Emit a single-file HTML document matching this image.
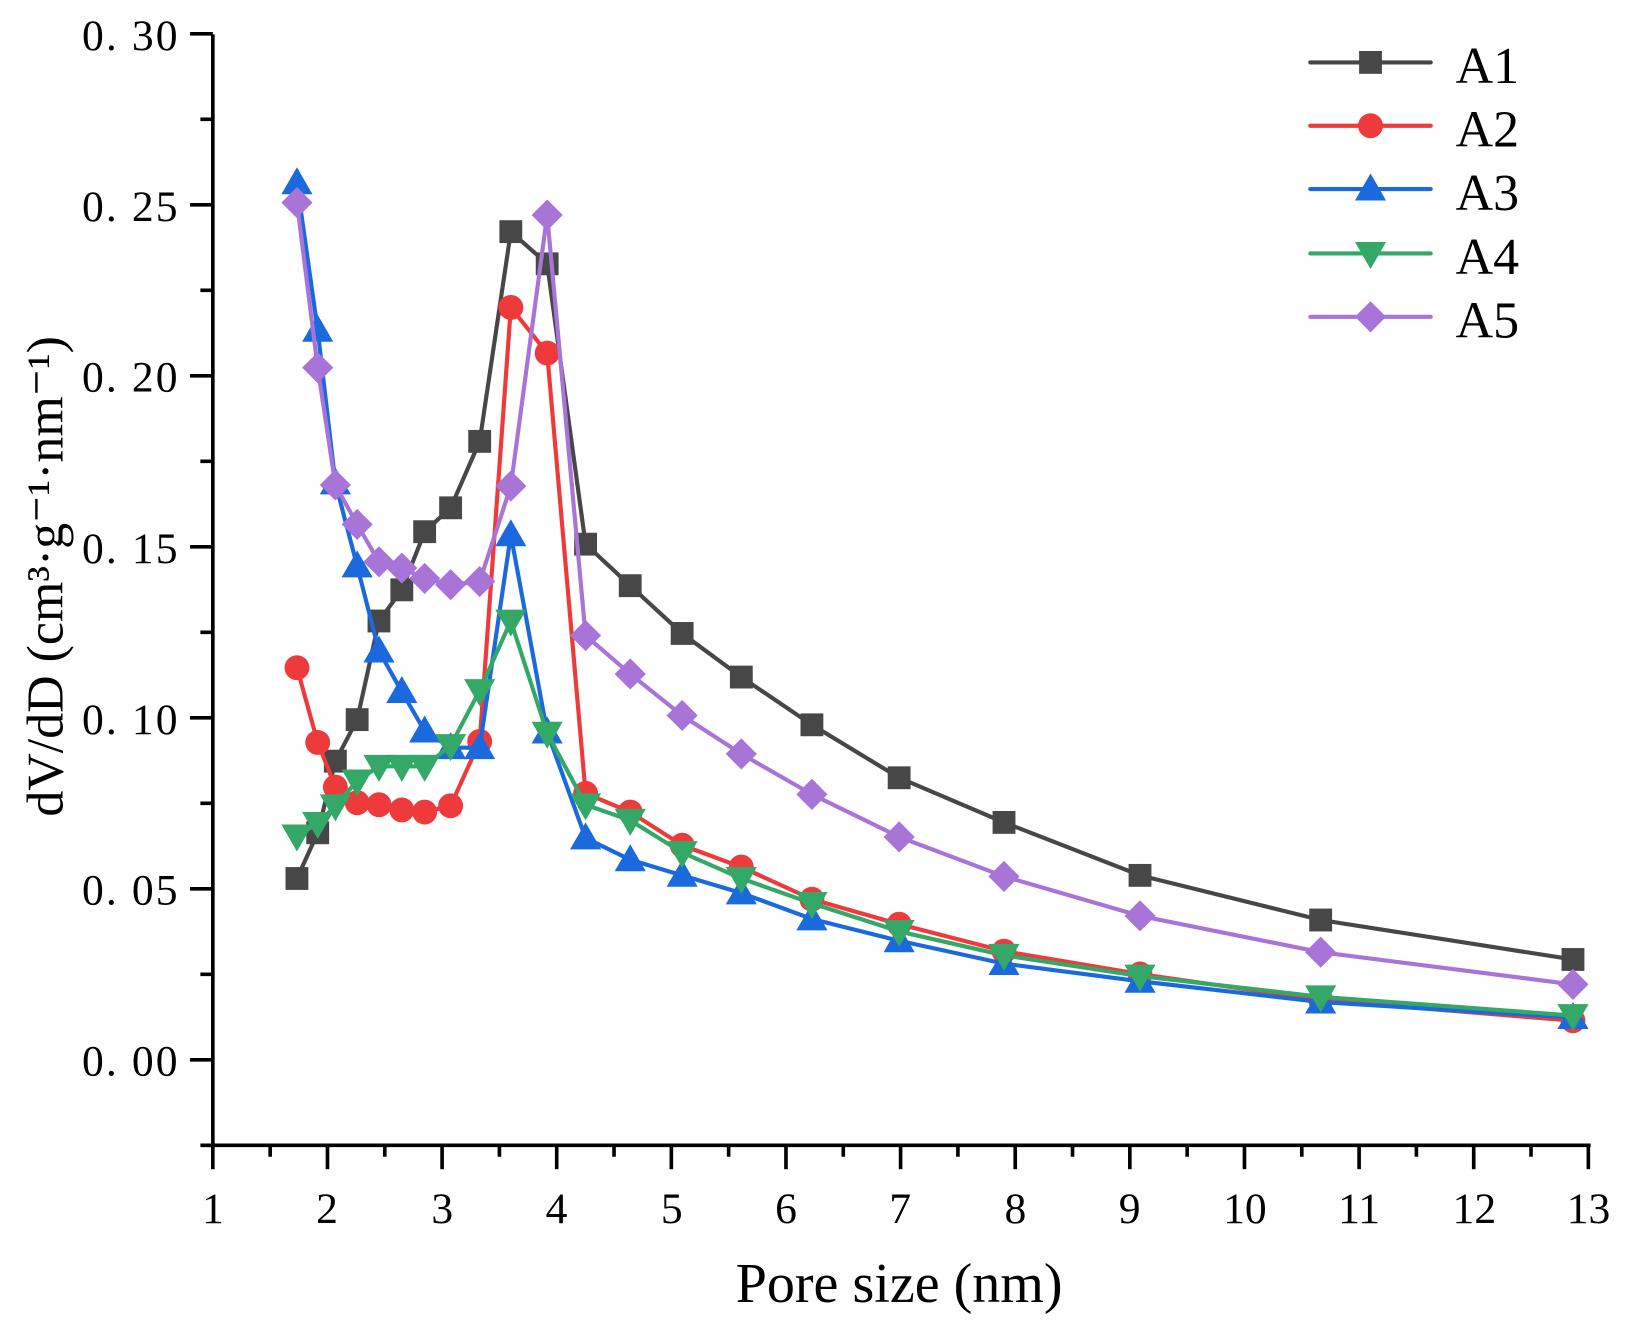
<!DOCTYPE html>
<html><head><meta charset="utf-8"><style>
html,body{margin:0;padding:0;background:#fff;}
svg{display:block;}
text{font-family:"Liberation Serif","Noto Serif CJK SC",serif;fill:#000;}
</style></head><body>
<svg id="c" width="1628" height="1324" viewBox="0 0 1568 1275" xmlns="http://www.w3.org/2000/svg">
<g stroke="#000" stroke-width="3.5" fill="none">
<line x1="205" y1="33" x2="205" y2="1105"/>
<line x1="200" y1="1103" x2="1532" y2="1103"/>
</g>
<g id="ticks" stroke="#000" stroke-width="3.5"></g>
<g font-size="42" text-anchor="end" letter-spacing="2">
<text x="173" y="1036">0. 00</text>
<text x="173" y="871">0. 05</text>
<text x="173" y="707">0. 10</text>
<text x="173" y="542">0. 15</text>
<text x="173" y="377">0. 20</text>
<text x="173" y="213">0. 25</text>
<text x="173" y="48">0. 30</text>
</g>
<g font-size="42" text-anchor="middle">
<text x="205" y="1178">1</text><text x="315" y="1178">2</text><text x="426" y="1178">3</text>
<text x="536" y="1178">4</text><text x="647" y="1178">5</text><text x="757" y="1178">6</text>
<text x="867" y="1178">7</text><text x="978" y="1178">8</text><text x="1088" y="1178">9</text>
<text x="1199" y="1178">10</text><text x="1309" y="1178">11</text><text x="1420" y="1178">12</text>
<text x="1530" y="1178">13</text>
</g>
<text x="866" y="1254" font-size="54" text-anchor="middle">Pore size (nm)</text>
<text transform="translate(60,555) rotate(-90)" font-size="50" text-anchor="middle">dV/dD (cm³·g⁻¹·nm⁻¹)</text>
<g id="series"></g>
<g id="legend"></g>
<g font-size="50">
<text x="1402" y="80">A1</text><text x="1402" y="141">A2</text><text x="1402" y="202">A3</text>
<text x="1402" y="264">A4</text><text x="1402" y="325">A5</text>
</g>
</svg>
<script>
var NS="http://www.w3.org/2000/svg";
function el(p,n,a){var e=document.createElementNS(NS,n);for(var k in a)e.setAttribute(k,a[k]);p.appendChild(e);return e;}
var T=document.getElementById('ticks');
for(var i=0;i<=13;i++){var y=1103-i*82.35;var maj=(i%2==1);el(T,'line',{x1:maj?183:193,x2:205,y1:y,y2:y});}
for(var i=0;i<=24;i++){var x=205+i*55.2;var maj=(i%2==0);el(T,'line',{x1:x,x2:x,y1:1103,y2:maj?1126:1114});}
var cols=['#474747','#ee3a3a','#1a6ade','#33a867','#a874d8'];
var xs=[286,306,323,344,365,387,409,434,462,492,527,564,607,657,714,782,866,967,1098,1272,1515];
var D=[
[846,802,733,693,598,568,512,489,425,223,254,524,564,610,652,698,749,792,843,886,924],
[643,715,758,773,775,780,782,776,714,296,340,764,782,814,835,866,890,916,938,963,983],
[176,318,465,545,627,666,704,720,720,515,705,807,828,843,860,885,906,928,945,965,980],
[805,793,776,752,738,738,738,718,665,598,706,775,790,821,846,870,897,920,940,960,978],
[195,354,467,505,541,547,557,563,560,468,207,612,649,689,726,765,806,844,882,917,948]];
function marker(g,s,x,y,c){
 if(s==0)el(g,'rect',{x:x-11,y:y-11,width:22,height:22,fill:c});
 else if(s==1)el(g,'circle',{cx:x,cy:y,r:12,fill:c});
 else if(s==2)el(g,'polygon',{points:(x)+','+(y-15)+' '+(x+15)+','+(y+11)+' '+(x-15)+','+(y+11),fill:c});
 else if(s==3)el(g,'polygon',{points:(x)+','+(y+15)+' '+(x+15)+','+(y-11)+' '+(x-15)+','+(y-11),fill:c});
 else el(g,'polygon',{points:x+','+(y-15)+' '+(x+15)+','+y+' '+x+','+(y+15)+' '+(x-15)+','+y,fill:c});
}
var S=document.getElementById('series');
for(var s=0;s<5;s++){
 var g=el(S,'g',{});var pts=xs.map(function(x,i){return x+','+D[s][i];}).join(' ');
 el(g,'polyline',{points:pts,fill:'none',stroke:cols[s],'stroke-width':4,'stroke-linejoin':'round'});
 for(var i=0;i<xs.length;i++)marker(g,s,xs[i],D[s][i],cols[s]);
}
var L=document.getElementById('legend');
var ly=[60,121,182,244,305];
for(var s=0;s<5;s++){el(L,'line',{x1:1262,x2:1378,y1:ly[s],y2:ly[s],stroke:cols[s],'stroke-width':4,'stroke-linecap':'round'});marker(L,s,1320,ly[s],cols[s]);}
</script>
</body></html>
